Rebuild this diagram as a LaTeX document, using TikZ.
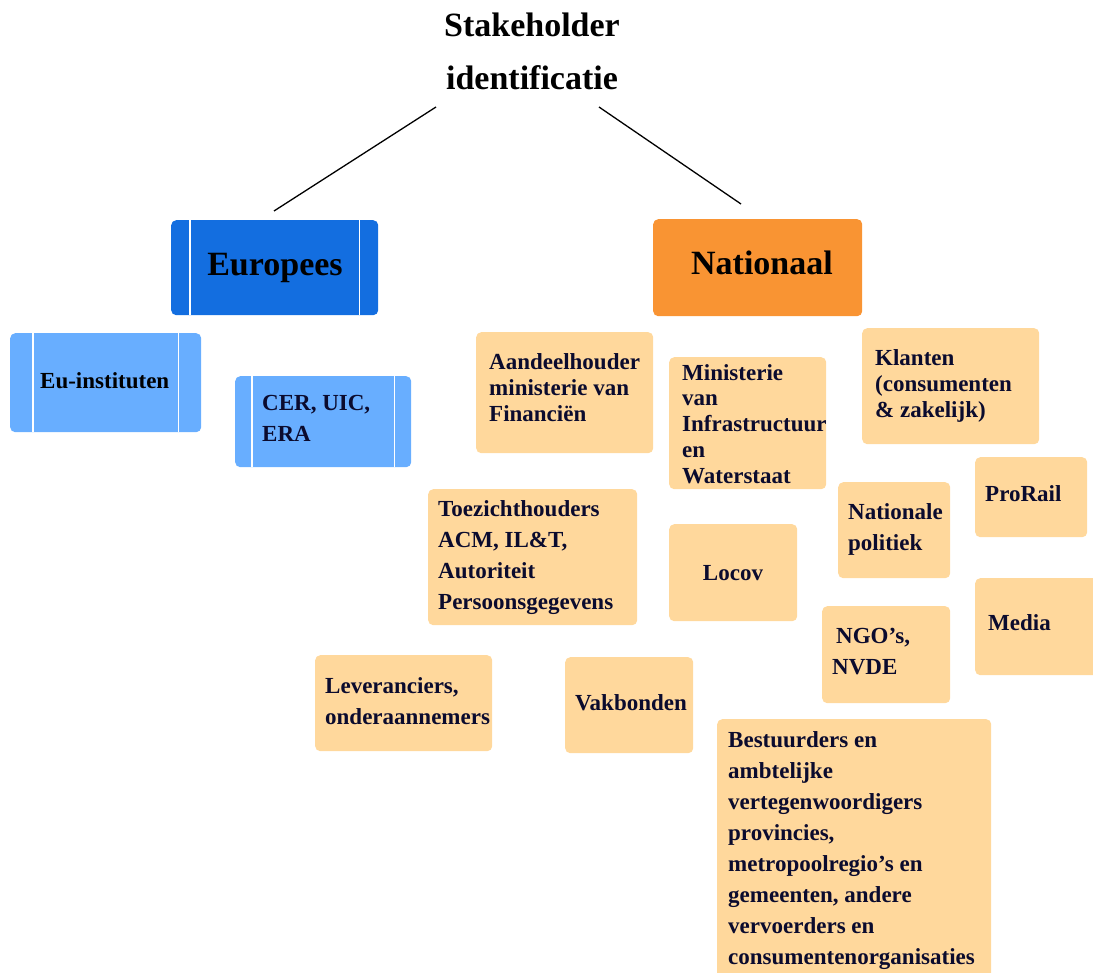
\documentclass[tikz,border=0pt]{standalone}
\usepackage{fontspec}
\setmainfont{Liberation Serif}
\definecolor{eublue}{HTML}{136EE0}
\definecolor{lightblue}{HTML}{68AEFF}
\definecolor{natorange}{HTML}{F99433}
\definecolor{peach}{HTML}{FFD89C}
\definecolor{navy}{HTML}{0B0B2E}
\tikzset{
  box/.style={rounded corners=5pt, inner sep=0pt, anchor=north west},
  bluebox/.style={box, fill=eublue},
  lbluebox/.style={box, fill=lightblue},
  orangebox/.style={box, fill=natorange},
  peachbox/.style={box, fill=peach},
  stripe/.style={draw=white, line width=1.3pt},
  txt/.style={anchor=base west, align=left, inner sep=0pt, yshift=-2pt, text=navy, font=\fontsize{23}{26}\selectfont\bfseries},
  txtw/.style={txt, font=\fontsize{23}{31}\selectfont\bfseries},
  head/.style={inner sep=0pt, yshift=-2pt, text=black, font=\fontsize{34}{53}\selectfont\bfseries},
  link/.style={draw=black, line width=1.3pt}
}
\begin{document}
\begin{tikzpicture}[x=1pt, y=-1pt]
\useasboundingbox (0,0) rectangle (1093,973);
\clip (0,0) rectangle (1093,973);

% title (base anchor = baseline of last line)
\node[head, align=center, anchor=base] (title) at (532,88) {Stakeholder\\identificatie};
\coordinate (l1a) at (436,107);
\coordinate (l1b) at (274,211);
\coordinate (l2a) at (599,107);
\coordinate (l2b) at (741,204);
\draw[link] (l1a) -- (l1b);
\draw[link] (l2a) -- (l2b);

% Europees
\node[bluebox, minimum width=207pt, minimum height=95pt] (eu) at (171,220) {};
\draw[stripe] ([xshift=19pt]eu.north west) -- ([xshift=19pt]eu.south west);
\draw[stripe] ([xshift=-19pt]eu.north east) -- ([xshift=-19pt]eu.south east);
\node[head, anchor=base] (eut) at (275,274) {Europees};

% Nationaal
\node[orangebox, minimum width=209pt, minimum height=97pt] (nat) at (653,219) {};
\node[head, anchor=base] (natt) at (762,273) {Nationaal};

% Eu-instituten
\node[lbluebox, minimum width=191pt, minimum height=99pt] (eui) at (10,333) {};
\draw[stripe] ([xshift=23pt]eui.north west) -- ([xshift=23pt]eui.south west);
\draw[stripe] ([xshift=-23pt]eui.north east) -- ([xshift=-23pt]eui.south east);
\node[txt, text=black] (euit) at (40,387) {Eu-instituten};

% CER UIC ERA
\node[lbluebox, minimum width=176pt, minimum height=91pt] (cer) at (235,376) {};
\draw[stripe] ([xshift=17pt]cer.north west) -- ([xshift=17pt]cer.south west);
\draw[stripe] ([xshift=-17pt]cer.north east) -- ([xshift=-17pt]cer.south east);
\node[txtw] (cert) at (262,440) {CER, UIC,\\ERA};

% national stakeholders
\node[peachbox, minimum width=177pt, minimum height=121pt] (aand) at (476,332) {};
\node[txt] (aandt) at (489,420) {Aandeelhouder\\ministerie van\\Financiën};

\node[peachbox, minimum width=157pt, minimum height=132pt] (min) at (669,357) {};
\node[txt] (mint) at (682,482) {Ministerie\\van\\Infrastructuur\\en\\Waterstaat};

\node[peachbox, minimum width=177pt, minimum height=116pt] (kla) at (862,328) {};
\node[txt] (klat) at (875,416) {Klanten\\(consumenten\\\&~zakelijk)};

\node[peachbox, minimum width=112pt, minimum height=80pt] (pro) at (975,457) {};
\node[txt] (prot) at (985,499) {ProRail};

\node[peachbox, minimum width=112pt, minimum height=96pt] (pol) at (838,482) {};
\node[txtw] (polt) at (848,548) {Nationale\\politiek};

\node[peachbox, minimum width=209pt, minimum height=136pt] (toe) at (428,489) {};
\node[txtw] (toet) at (438,607) {Toezichthouders\\ACM, IL\&T,\\Autoriteit\\Persoonsgegevens};

\node[peachbox, minimum width=128pt, minimum height=97pt] (loc) at (669,524) {};
\node[txt, anchor=base] (loct) at (733,578) {Locov};

\node[peachbox, minimum width=128pt, minimum height=97pt] (ngo) at (822,606) {};
\node[txtw] (ngot) at (832,672) {\hspace{4pt}NGO’s,\\NVDE};

\node[peachbox, minimum width=130pt, minimum height=97pt] (med) at (975,578) {};
\node[txt] (medt) at (988,628) {Media};

\node[peachbox, minimum width=177pt, minimum height=96pt] (lev) at (315,655) {};
\node[txtw] (levt) at (325,722) {Leveranciers,\\onderaannemers};

\node[peachbox, minimum width=128pt, minimum height=96pt] (vak) at (565,657) {};
\node[txt] (vakt) at (575,708) {Vakbonden};

\node[peachbox, minimum width=274pt, minimum height=270pt] (bes) at (717,719) {};
\node[txtw] (best) at (728,962) {Bestuurders en\\ambtelijke\\vertegenwoordigers\\provincies,\\metropoolregio’s en\\gemeenten, andere\\vervoerders en\\consumentenorganisaties};
\end{tikzpicture}
\end{document}
